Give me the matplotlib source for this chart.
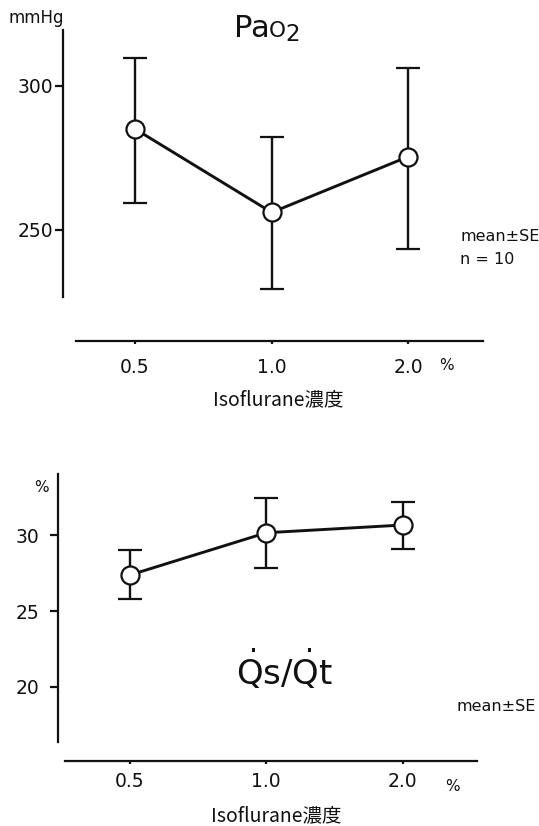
import matplotlib
matplotlib.use('Agg')
import matplotlib.pyplot as plt

plt.rcParams['font.family'] = ['DejaVu Sans', 'Noto Sans CJK JP']
plt.rcParams['mathtext.fontset'] = 'dejavusans'

# ---- data ----
conc_labels = ['0.5', '1.0', '2.0']

pao2_mean = [285.1, 256.1, 275.5]
pao2_err_lo = [25.6, 26.6, 32.0]
pao2_err_hi = [24.6, 26.2, 30.9]
pao2_yticks = [250, 300]

qsqt_mean = [27.38, 30.17, 30.68]
qsqt_err_lo = [1.61, 2.31, 1.58]
qsqt_err_hi = [1.63, 2.31, 1.50]
qsqt_yticks = [20, 25, 30]

xlabel_text = 'Isoflurane濃度'

# ---- layout ----
W, H = 539, 826
ink = '#111111'
fig = plt.figure(figsize=(W / 100, H / 100), dpi=100)
fig.patch.set_facecolor('white')


def px_rect(left, top, right, bottom):
    return [left / W, 1 - bottom / H, (right - left) / W, (bottom - top) / H]


def panel(rect, xlim, ylim, means, lo, hi, yticks, outward, xbounds,
          ypad, xpad, ylen):
    ax = fig.add_axes(rect)
    ax.set_facecolor('none')
    xs = list(range(len(means)))
    ax.errorbar(xs, means, yerr=[lo, hi], fmt='-o', color=ink, lw=2.1,
                elinewidth=1.7, capsize=8.5, capthick=1.7, ms=13,
                mfc='white', mec=ink, mew=1.6, zorder=3, clip_on=False)
    ax.set_xlim(*xlim)
    ax.set_ylim(*ylim)
    for s in ['top', 'right']:
        ax.spines[s].set_visible(False)
    ax.spines['left'].set_linewidth(1.6)
    ax.spines['left'].set_color(ink)
    ax.spines['bottom'].set_linewidth(1.6)
    ax.spines['bottom'].set_color(ink)
    ax.spines['bottom'].set_position(('outward', outward))
    ax.spines['bottom'].set_bounds(*xbounds)
    ax.set_xticks(xs)
    ax.set_xticklabels(conc_labels)
    ax.set_yticks(yticks)
    ax.tick_params(axis='y', direction='out', length=ylen, width=1.6,
                   pad=ypad, labelsize=13.5, colors=ink)
    ax.tick_params(axis='x', direction='out', length=2.5, width=1.6,
                   pad=xpad, labelsize=13.5, colors=ink)
    return ax


# top panel (PaO2)
ax1 = panel(px_rect(63.3, 30, 483, 296.7), (-0.5245, 2.5457),
            (226.84, 319.44), pao2_mean, pao2_err_lo, pao2_err_hi,
            pao2_yticks, 31.6, (-0.4345, 2.5446), 1.7, 10, 5.5)

# bottom panel (Qs/Qt)
ax2 = panel(px_rect(57.7, 474, 477, 741.7), (-0.5304, 2.5459),
            (16.37, 34.05), qsqt_mean, qsqt_err_lo, qsqt_err_hi,
            qsqt_yticks, 13.9, (-0.4769, 2.5437), 7.5, 5.5, 5.5)


def ftext(x, y, s, **kw):
    return fig.text(x / W, 1 - y / H, s, color=ink, **kw)


# top annotations
ftext(8, 23, 'mmHg', fontsize=12, ha='left', va='baseline')
ftext(234, 36.7, 'Pa', fontsize=22, ha='left', va='baseline')
ftext(269, 36.7, 'O', fontsize=15.5, ha='left', va='baseline')
ftext(285.5, 40.7, '2', fontsize=16.5, ha='left', va='baseline')
ftext(460, 236.7, 'mean±SE', fontsize=11.5, ha='left', va='center')
ftext(460, 260, 'n = 10', fontsize=11.5, ha='left', va='center')
ftext(446.7, 366, '%', fontsize=11, ha='center', va='center')
ftext(278, 399.7, xlabel_text, fontsize=14, ha='center', va='center',
      family=['Noto Sans CJK JP'])

# bottom annotations
ftext(41.7, 488, '%', fontsize=11, ha='center', va='center')
ftext(285, 685, r'$\dot{\mathrm{Q}}\mathrm{s/}\dot{\mathrm{Q}}\mathrm{t}$',
      fontsize=24.5, ha='center', va='baseline')
ftext(456.7, 706.7, 'mean±SE', fontsize=11.5, ha='left', va='center')
ftext(452.7, 786.7, '%', fontsize=11, ha='center', va='center')
ftext(276, 816, xlabel_text, fontsize=14, ha='center', va='center',
      family=['Noto Sans CJK JP'])

fig.savefig('out.png', dpi=100, facecolor='white')
